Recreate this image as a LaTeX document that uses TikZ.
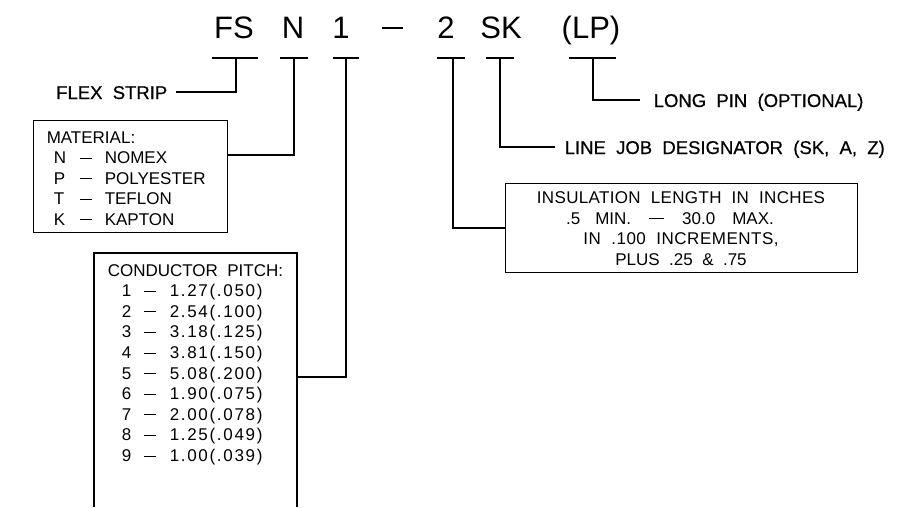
\documentclass[tikz,border=0pt]{standalone}
\usepackage{fontspec}
\setmainfont{Liberation Sans}[WordSpace=2]
\newfontfamily\lblfont{Liberation Sans}[WordSpace=2,FakeBold=0.6]
\newfontfamily\numfont{Liberation Sans}[LetterSpace=10]
\newcommand\dsh{\rule[4.8pt]{12pt}{1.1pt}}
\begin{document}
\begin{tikzpicture}[x=1pt,y=-1pt,line width=1.5pt,line join=miter,
  txt/.style={font=\fontsize{17}{20.5}\selectfont,inner sep=0pt},
  lbl/.style={font=\lblfont\fontsize{18.5}{20.5}\selectfont,inner sep=0pt},
  ttl/.style={font=\fontsize{31}{31}\selectfont,inner sep=0pt,anchor=base},
  boxline/.style={draw,line width=1.3pt}]
\useasboundingbox (0,0) rectangle (921,507);
% title
\node[ttl] (tfs) at (234,38) {FS};
\node[ttl] (tn) at (293,38) {N};
\node[ttl] (tone) at (341,38) {1};
\node[ttl] (tdash) at (392,38) {\rule[9pt]{21pt}{1.8pt}};
\node[ttl] (ttwo) at (446,38) {2};
\node[ttl] (tsk) at (501,38) {SK};
\node[ttl] (tlp) at (591,38) {(LP)};
% bars
\coordinate (bfs) at (236,58);
\coordinate (bn) at (294,58);
\coordinate (bone) at (346,58);
\coordinate (btwo) at (453,58);
\coordinate (bsk) at (500,58);
\coordinate (blp) at (593,58);
\draw (212,58) -- (258,58);
\draw (280,58) -- (308,58);
\draw (333,58) -- (359,58);
\draw (437,58) -- (465,58);
\draw (486,58) -- (514,58);
\draw (569,58) -- (616,58);
% labels
\node[lbl,anchor=base east] (flex) at (168,99) {FLEX STRIP};
\coordinate (flexend) at (176,92);
\node[lbl,anchor=base west] (lpin) at (653,107) {LONG PIN (OPTIONAL)};
\coordinate (lpend) at (640,100);
\node[lbl,anchor=base west] (ljob) at (564,154) {LINE JOB DESIGNATOR (SK, A, Z)};
\coordinate (ljend) at (555,147);
% material box
\node[boxline,anchor=north west,minimum width=194pt,minimum height=112pt,inner sep=0pt] (mat) at (33,120) {};
\node[txt,anchor=base west] (m0) at (46,143) {MATERIAL:};
\foreach \i/\l/\w in {1/N/NOMEX,2/P/POLYESTER,3/T/TEFLON,4/K/KAPTON}{
  \node[txt,anchor=base west] (m\i) at (53,{143+20.5*\i}) {\makebox[26pt][l]{\l}\makebox[25pt][l]{\dsh}\w};
}
% insulation box
\node[boxline,anchor=north west,minimum width=352pt,minimum height=89pt,inner sep=0pt] (ins) at (505,183) {};
\node[txt,anchor=base] (i1) at (681,203) {\addfontfeatures{LetterSpace=2}INSULATION LENGTH IN INCHES};
\node[txt,anchor=base] (i2) at (670,224) {.5\hspace{15pt}MIN.\hspace{18pt}\rule[4.8pt]{15pt}{1.1pt}\hspace{18pt}30.0\hspace{17pt}MAX.};
\node[txt,anchor=base] (i3) at (681,244) {\addfontfeatures{LetterSpace=3}IN .100 INCREMENTS,};
\node[txt,anchor=base] (i4) at (681,265) {PLUS .25 \& .75};
% conductor box (open at bottom)
\coordinate (cbl) at (94,507);
\coordinate (cbr) at (297,507);
\coordinate (ctl) at (94,253);
\coordinate (ctr) at (297,253);
\draw[line width=1.3pt] (cbl) -- (ctl) -- (ctr) -- (cbr);
\node[txt,anchor=base west] (c0) at (107,276) {CONDUCTOR PITCH:};
\foreach \i/\v in {1/1.27(.050),2/2.54(.100),3/3.18(.125),4/3.81(.150),5/5.08(.200),6/1.90(.075),7/2.00(.078),8/1.25(.049),9/1.00(.039)}{
  \node[txt,anchor=base west] (c\i) at (121,{276+20.6*\i}) {\makebox[22pt][l]{\i}\makebox[26pt][l]{\dsh}{\numfont\v}};
}
% connectors
\draw (bfs) |- (flexend);
\draw (bn) |- (mat.east |- 0,155);
\draw (bone) |- (ctr |- 0,377);
\draw (btwo) |- (ins.west |- 0,228);
\draw (bsk) |- (ljend);
\draw (blp) |- (lpend);
\end{tikzpicture}
\end{document}
